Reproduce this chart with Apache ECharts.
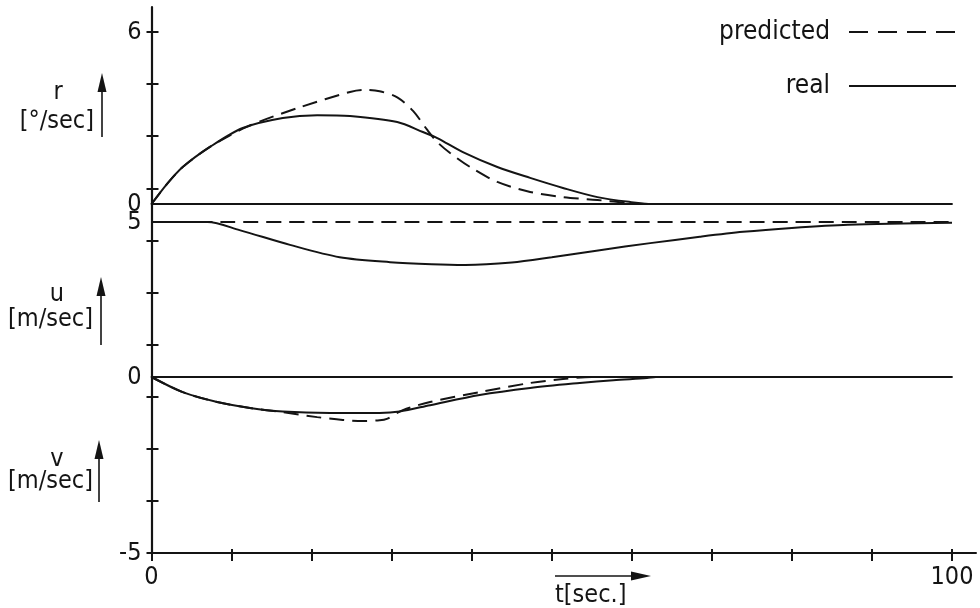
<!DOCTYPE html>
<html>
<head>
<meta charset="utf-8">
<script src="https://cdn.jsdelivr.net/npm/echarts@6/dist/echarts.min.js"></script>
<style>
  html, body { margin: 0; padding: 0; background: #fff; }
  #main { width: 980px; height: 608px; }
</style>
</head>
<body>
<div id="main"></div>
<script>
// time axis t [sec]
var tTicks = [0, 10, 20, 30, 40, 50, 60, 70, 80, 90, 100];
var tLabels = [0, 100];
// evenly spaced ticks along the whole left axis
var frameTicks = [0, 1, 2, 3, 4, 5, 6, 7, 8, 9, 10];
var rLabels = [0, 6];
var uLabels = [5];
var vLabels = [-5, 0];

// r [deg/sec]
var rReal = [[0, 0], [2, 0.72], [3.9, 1.29], [7.3, 1.99], [11.4, 2.65], [16.4, 3.0], [20.7, 3.1], [24.8, 3.07],
  [30.7, 2.86], [33.9, 2.51], [35.7, 2.30], [38.9, 1.81], [43.2, 1.29], [47.3, 0.91], [51.4, 0.56],
  [55.7, 0.24], [59.8, 0.07], [62.6, 0], [100, 0]];
var rPred = [[0, 0], [2, 0.72], [3.9, 1.29], [7.3, 1.99], [11.9, 2.69], [18.6, 3.38], [24.8, 3.91], [26.4, 3.98],
  [28.5, 3.93], [30.7, 3.72], [32.7, 3.24], [34.4, 2.6], [35.7, 2.16], [37.3, 1.78], [39.8, 1.29],
  [43.2, 0.77], [47.3, 0.42], [51.4, 0.24], [55.7, 0.14], [59.8, 0.03], [62.3, 0], [100, 0]];

// u [m/sec]
var uReal = [[0, 5], [7, 5], [11, 4.77], [17.3, 4.35], [23.5, 4.0], [29.8, 3.86], [35, 3.8], [39.2, 3.78],
  [45, 3.85], [50, 4.0], [56, 4.2], [62.3, 4.4], [68.5, 4.58], [73.9, 4.72], [80, 4.83], [87, 4.92], [100, 4.98]];
var uPred = [[0, 5], [100, 5]];

// v [m/sec]
var vReal = [[0, 0], [3.9, -0.43], [8.2, -0.71], [12.3, -0.88], [16.4, -0.98], [22.3, -1.02], [28.5, -1.02],
  [31, -0.98], [34.8, -0.8], [41, -0.51], [47.3, -0.31], [53.5, -0.17], [57.7, -0.09], [61.9, -0.03],
  [63, 0], [100, 0]];
var vPred = [[0, 0], [3.9, -0.43], [8.2, -0.71], [12.3, -0.88], [16.4, -1.0], [20.7, -1.14], [23.9, -1.22],
  [26.4, -1.25], [28.5, -1.23], [29.4, -1.19], [31.4, -0.94], [34.8, -0.71], [41, -0.43], [47.3, -0.17],
  [51.4, -0.06], [55, 0], [100, 0]];

var ink = '#141414';
var font = "'DejaVu Sans Condensed', 'Liberation Sans Narrow', 'Roboto', sans-serif";
var dash = [15, 8];

var myChart = echarts.init(document.getElementById('main'));

function noAxis() {
  return { axisLine: { show: false }, axisTick: { show: false }, axisLabel: { show: false }, splitLine: { show: false } };
}

function curve(name, data, idx, dashed) {
  return {
    name: name,
    type: 'line',
    xAxisIndex: idx,
    yAxisIndex: idx,
    data: data,
    symbol: 'none',
    smooth: 0.3,
    z: dashed ? 2 : 3,
    itemStyle: { color: ink },
    lineStyle: { color: ink, width: 2, type: dashed ? dash : 'solid' }
  };
}

function legendItem(name, top, lineType) {
  return {
    data: [name],
    right: 23,
    top: top,
    padding: 0,
    align: 'right',
    itemWidth: 107,
    itemHeight: 14,
    selectedMode: false,
    itemStyle: { opacity: 0 },
    lineStyle: { color: ink, width: 2, type: lineType },
    textStyle: { fontSize: 26, fontFamily: font, color: ink, padding: [0, 14, 0, 0] }
  };
}

function arrowUp(x, yTop, yBottom) {
  return [
    { type: 'line', shape: { x1: x, y1: yBottom, x2: x, y2: yTop + 10 }, style: { stroke: ink, lineWidth: 1.6 } },
    { type: 'polygon', shape: { points: [[x, yTop], [x - 4.5, yTop + 19], [x + 4.5, yTop + 19]] }, style: { fill: ink } }
  ];
}

function label(text, x, y, align) {
  return {
    type: 'text', x: x, y: y,
    style: { text: text, font: '25px ' + font, fill: ink, align: align || 'center', verticalAlign: 'middle' }
  };
}

var tickFont = { fontSize: 25, fontFamily: font, color: ink };

var option = {
  animation: false,
  backgroundColor: '#fff',
  grid: [
    { left: 151.5, top: 7, width: 824.5, height: 546 },
    { left: 151.5, top: 7, width: 824.5, height: 546 },
    { left: 151.5, top: 32, width: 800.5, height: 172 },
    { left: 151.5, top: 222, width: 800.5, height: 176 },
    { left: 151.5, top: 377, width: 800.5, height: 176 }
  ],
  legend: [legendItem('predicted', 19, [19, 10]), legendItem('real', 73, 'solid')],
  xAxis: [
    {
      gridIndex: 0, type: 'value', min: 0, max: 103,
      axisLine: { lineStyle: { color: ink, width: 2 } },
      axisTick: { customValues: tTicks, length: 8, lineStyle: { color: ink, width: 2 } },
      axisLabel: Object.assign({ customValues: tLabels, margin: 12 }, tickFont),
      splitLine: { show: false }
    },
    Object.assign({ gridIndex: 1, type: 'value', min: 0, max: 103 }, noAxis(), {
      axisTick: { show: true, inside: true, customValues: tTicks, length: 4, lineStyle: { color: ink, width: 2 } }
    }),
    Object.assign({ gridIndex: 2, type: 'value', min: 0, max: 100 }, noAxis(), {
      axisLine: { show: true, onZero: false, lineStyle: { color: ink, width: 1.8 } }
    }),
    Object.assign({ gridIndex: 3, type: 'value', min: 0, max: 100, show: false }, noAxis()),
    Object.assign({ gridIndex: 4, type: 'value', min: 0, max: 100, position: 'top' }, noAxis(), {
      axisLine: { show: true, onZero: false, lineStyle: { color: ink, width: 1.8 } }
    })
  ],
  yAxis: [
    {
      gridIndex: 0, type: 'value', min: 0, max: 546 / 52.1,
      axisLine: { show: true, lineStyle: { color: ink, width: 2.2 } },
      axisTick: { show: true, customValues: frameTicks, length: 5, lineStyle: { color: ink, width: 2 } },
      axisLabel: { show: false },
      splitLine: { show: false }
    },
    Object.assign({ gridIndex: 1, type: 'value', min: 0, max: 546 / 52.1 }, noAxis(), {
      axisTick: { show: true, inside: true, customValues: frameTicks, length: 7, lineStyle: { color: ink, width: 2 } }
    }),
    Object.assign({ gridIndex: 2, type: 'value', min: 0, max: 6 }, noAxis(), {
      axisLabel: Object.assign({ show: true, customValues: rLabels, margin: 10 }, tickFont)
    }),
    Object.assign({ gridIndex: 3, type: 'value', min: 0, max: 5 }, noAxis(), {
      axisLabel: Object.assign({ show: true, customValues: uLabels, margin: 10 }, tickFont)
    }),
    Object.assign({ gridIndex: 4, type: 'value', min: -5, max: 0 }, noAxis(), {
      axisLabel: Object.assign({ show: true, customValues: vLabels, margin: 10 }, tickFont)
    })
  ],
  series: [
    curve('predicted', rPred, 2, true),
    curve('real', rReal, 2, false),
    curve('predicted', uPred, 3, true),
    curve('real', uReal, 3, false),
    curve('predicted', vPred, 4, true),
    curve('real', vReal, 4, false)
  ],
  graphic: [].concat(
    [label('r', 58, 92), label('[°/sec]', 94, 121, 'right')],
    arrowUp(102, 73, 137),
    [label('u', 57, 294), label('[m/sec]', 93, 319, 'right')],
    arrowUp(101, 277, 345),
    [label('v', 57, 459), label('[m/sec]', 93, 481, 'right')],
    arrowUp(99, 440, 502),
    [label('t[sec.]', 555, 595, 'left'),
     { type: 'line', shape: { x1: 555, y1: 576, x2: 635, y2: 576 }, style: { stroke: ink, lineWidth: 1.6 } },
     { type: 'polygon', shape: { points: [[651, 576], [631, 571.5], [631, 580.5]] }, style: { fill: ink } }]
  )
};

myChart.setOption(option);
</script>
</body>
</html>
